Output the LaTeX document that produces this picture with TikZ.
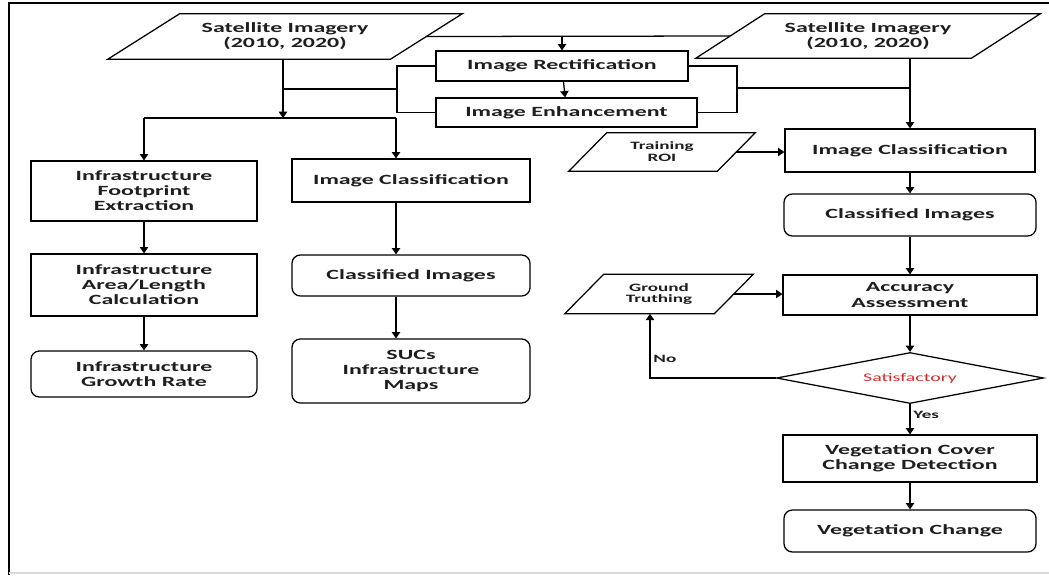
\documentclass[tikz,border=0pt]{standalone}
\usepackage{fontspec}
\setmainfont{Carlito}[FakeStretch=1.7]
\usetikzlibrary{arrows.meta, positioning, shapes.geometric, calc}
\definecolor{boxcolor}{RGB}{255, 255, 255}
\definecolor{txtcolor}{RGB}{30, 30, 30}
\definecolor{okcolor} {RGB}{215, 45, 45}
\tikzset{
	baseblock/.style={
		rectangle, draw=black, line width=0.9pt, fill=boxcolor,
		align=center, text=txtcolor, inner sep=2pt,
		font=\bfseries\fontsize{10}{10.7}\selectfont
	},
	roundblock/.style={
		baseblock, rounded corners=6pt
	},
	datablock/.style={
		rectangle, align=center, text=txtcolor, inner sep=1pt
	},
	decision/.style={
		diamond, aspect=5.2, draw=black, line width=0.9pt, fill=boxcolor,
		inner sep=0pt, text=okcolor,
		font=\fontsize{8.3}{9}\selectfont
	},
	arrow/.style={
		-{Triangle[length=4.5pt, width=6pt]}, line width=0.9pt
	},
	plainline/.style={
		line width=0.9pt
	},
	lbl/.style={
		font=\bfseries\fontsize{8}{9}\selectfont, text=txtcolor, inner sep=2pt
	}
}
% slanted outline round a data node: #1 node, #2 half of the slant
\newcommand{\paraframe}[2]{%
	\draw[plainline] ($(#1.south west)+(-#2,0)$) -- ($(#1.south east)+(-#2,0)$)
	-- ($(#1.north east)+(#2,0)$) -- ($(#1.north west)+(#2,0)$) -- cycle;}

\begin{document}
\begin{tikzpicture}[x=0.025cm, y=-0.025cm]
	\useasboundingbox (0,0) rectangle (1049,575);
	
	%% ═══════════════════════════════
	%%  FRAME
	%% ═══════════════════════════════
	\draw[plainline] (1049,3) -- (9,3) -- (9,575);
	\draw[black!15, line width=0.8pt] (9,573) -- (1049,573);
	
	%% ═══════════════════════════════
	%%  TOP ROW — inputs and pre-processing
	%% ═══════════════════════════════
	\node[datablock, minimum width=7.05cm, minimum height=1.125cm,
	font=\bfseries\fontsize{10}{10.7}\selectfont] (satleft) at (285,36.5)
	{Satellite Imagery\\(2010, 2020)};
	\paraframe{satleft}{36}
	
	\node[datablock, minimum width=6.875cm, minimum height=1.1cm,
	font=\bfseries\fontsize{10}{10.7}\selectfont] (satright) at (868,36)
	{Satellite Imagery\\(2010, 2020)};
	\paraframe{satright}{34.5}
	
	\node[baseblock, minimum width=6.3cm, minimum height=0.75cm] (rectif) at (562,66) {Image Rectification};
	\node[baseblock, minimum width=6.525cm, minimum height=0.725cm] (enhance) at (566.5,112.5) {Image Enhancement};
	
	%% ═══════════════════════════════
	%%  LEFT — infrastructure branch
	%% ═══════════════════════════════
	\node[baseblock, minimum width=5.65cm, minimum height=1.5cm] (footprint) at (144,191) {Infrastructure\\Footprint\\Extraction};
	\node[baseblock, minimum width=5.65cm, minimum height=1.55cm] (arealen) at (144,285) {Infrastructure\\Area/Length\\Calculation};
	\node[roundblock, minimum width=5.65cm, minimum height=1.15cm] (growth) at (144,374) {Infrastructure\\Growth Rate};
	
	\node[baseblock, minimum width=5.95cm, minimum height=1.075cm] (imgclsl) at (411,180.5) {Image Classification};
	\node[roundblock, minimum width=5.95cm, minimum height=1.025cm] (clsimgl) at (411,275.5) {Classified Images};
	\node[roundblock, minimum width=5.95cm, minimum height=1.6cm] (sucmaps) at (411,371) {SUCs\\Infrastructure\\Maps};
	
	%% ═══════════════════════════════
	%%  RIGHT — vegetation branch
	%% ═══════════════════════════════
	\node[datablock, minimum width=3.7cm, minimum height=0.95cm,
	font=\bfseries\fontsize{8}{8.5}\selectfont] (roi) at (662,152) {Training\\ROI};
	\paraframe{roi}{19}
	
	\node[baseblock, minimum width=6.25cm, minimum height=1.075cm] (imgclsr) at (910,150.5) {Image Classification};
	\node[roundblock, minimum width=6.3cm, minimum height=1.05cm] (clsimgr) at (910,215) {Classified Images};
	
	\node[datablock, minimum width=3.725cm, minimum height=0.975cm,
	font=\bfseries\fontsize{8}{8.5}\selectfont] (ground) at (659,294) {Ground\\Truthing};
	\paraframe{ground}{19.5}
	
	\node[baseblock, minimum width=6.35cm, minimum height=1.0cm] (accuracy) at (910,295) {Accuracy\\Assessment};
	\node[decision, minimum width=6.675cm, minimum height=1.275cm] (satisf) at (910,378) {Satisfactory};
	\node[baseblock, minimum width=6.35cm, minimum height=1.175cm] (vegcover) at (910,458.5) {Vegetation Cover\\Change Detection};
	\node[roundblock, minimum width=6.3cm, minimum height=1.05cm] (vegchange) at (910,531) {Vegetation Change};
	
	%% ═══════════════════════════════
	%%  JUNCTIONS
	%% ═══════════════════════════════
	\coordinate (split) at (283,118);
	\coordinate (colb)  at (396,118);
	\coordinate (lbrk)  at (397,89);
	\coordinate (rbrk)  at (737,88);
	\coordinate (nobend) at (650,378);
	
	%% ═══════════════════════════════
	%%  ARROWS
	%% ═══════════════════════════════
	
	% imagery → pre-processing
	\draw[plainline] (satleft.east) -- (satright.west);
	\draw[arrow] (satleft.east -| rectif.north) -- (rectif.north);
	\draw[arrow] (rectif) -- (enhance);
	
	% pre-processing brackets
	\draw[plainline] (rectif.west) -| (lbrk) |- (enhance.west);
	\draw[plainline] (lbrk) -- (lbrk -| split);
	\draw[plainline] (rectif.east) -| (rbrk) |- (enhance.east);
	\draw[plainline] (rbrk) -- (rbrk -| imgclsr.north);
	
	% left imagery → two branches
	\draw[arrow] (satleft.south -| split) -- (split);
	\draw[plainline] (footprint.north |- split) -- (colb);
	\draw[arrow] (footprint.north |- split) -- (footprint.north);
	\draw[arrow] (colb) -- (imgclsl.north -| colb);
	
	% infrastructure chain
	\draw[arrow] (footprint) -- (arealen);
	\draw[arrow] (arealen) -- (growth);
	\draw[arrow] (imgclsl.south -| colb) -- (clsimgl.north -| colb);
	\draw[arrow] (clsimgl.south -| colb) -- (sucmaps.north -| colb);
	
	% vegetation chain
	\draw[arrow] (satright.south -| imgclsr.north) -- (imgclsr.north);
	\draw[arrow] (roi.east) -- (roi.east -| imgclsr.west);
	\draw[arrow] (imgclsr) -- (clsimgr);
	\draw[arrow] (clsimgr) -- (accuracy);
	\draw[arrow] (ground.east) -- (ground.east -| accuracy.west);
	\draw[arrow] (accuracy) -- (satisf);
	\draw[arrow] (satisf.west) -- (nobend) -- node[lbl, right, pos=0.3] {No} (nobend |- ground.south);
	\draw[arrow] (satisf.south) -- node[lbl, right, pos=0.35] {Yes} (vegcover.north);
	\draw[arrow] (vegcover) -- (vegchange);
\end{tikzpicture}
\end{document}
